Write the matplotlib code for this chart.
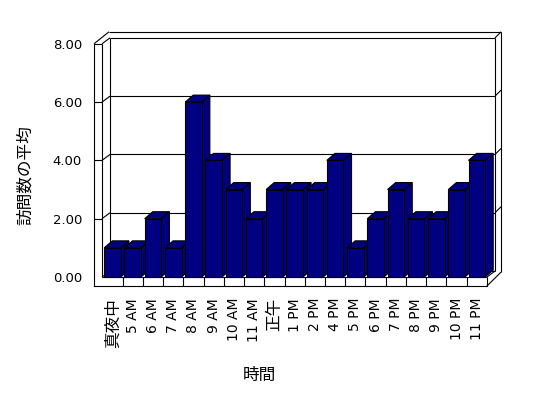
import matplotlib
matplotlib.use("Agg")
import matplotlib.pyplot as plt
from matplotlib.patches import Polygon
from matplotlib.ticker import FormatStrFormatter

plt.rcParams["font.family"] = ["DejaVu Sans", "Noto Sans CJK JP"]

# data
hours = ["真夜中", "5 AM", "6 AM", "7 AM", "8 AM", "9 AM", "10 AM", "11 AM",
         "正午", "1 PM", "2 PM", "4 PM", "5 PM", "6 PM", "7 PM", "8 PM",
         "9 PM", "10 PM", "11 PM"]
avg_visits = [1, 1, 2, 1, 6, 4, 3, 2, 3, 3, 3, 4, 1, 2, 3, 2, 2, 3, 4]
y_ticks = [0, 2, 4, 6, 8]
y_title = "訪問数の平均"
x_title = "時間"

BAR_COLOR = "#000080"
BAR_W = 0.82
BAR_DX, BAR_DY = 0.40, 0.24      # depth of the columns
WALL_DX, WALL_DY = 0.40, 0.206   # depth from floor front to back wall
EDGE_DX, EDGE_DY = 0.30, 0.206   # thickness of the wall edges
LW = 0.8

n = len(hours)
y_max = y_ticks[-1]
x_in = -0.52            # inner face of the left wall / floor start
x_end = n - 0.5         # floor right end
x_wall = -0.914         # outer face of the left wall
y_floor = -0.309        # bottom of the floor slab


def line(ax, xs, ys, z=1):
    ax.plot(xs, ys, color="black", lw=LW, zorder=z, solid_capstyle="butt")


fig = plt.figure(figsize=(5.48, 3.98), dpi=100)
ax = fig.add_axes([0, 0, 1, 1])
ax.set_xlim(-5.558, 21.517)
ax.set_ylim(-4.151, 9.503)

# back wall + side edges
bx0, bx1 = x_in + WALL_DX, x_end + WALL_DX
line(ax, [bx0, bx0], [WALL_DY, y_max + WALL_DY])
line(ax, [bx1, bx1], [WALL_DY, y_max + WALL_DY])
line(ax, [bx0, bx1], [WALL_DY, WALL_DY])
line(ax, [x_in, x_in], [0, y_max])
for t in y_ticks[1:]:
    line(ax, [x_wall, x_in], [t, t])
    line(ax, [x_in, bx0], [t, t + WALL_DY])
    line(ax, [bx0, bx1], [t + WALL_DY, t + WALL_DY])
    line(ax, [bx1, bx1 + EDGE_DX], [t + WALL_DY, t + WALL_DY + EDGE_DY])
line(ax, [x_in, bx0], [0, WALL_DY])

top_outer = y_max + WALL_DY + EDGE_DY
line(ax, [x_wall, -0.173], [y_max, top_outer])
line(ax, [-0.173, bx1 + EDGE_DX], [top_outer, top_outer])
line(ax, [bx1 + EDGE_DX, bx1 + EDGE_DX], [0.17, top_outer])
line(ax, [x_end, bx1 + EDGE_DX], [y_floor, 0.17])

# floor slab front
line(ax, [x_in, x_end], [0, 0])
line(ax, [x_end, x_end], [y_floor, 0])
line(ax, [x_end, bx1], [0, WALL_DY])
for i in range(n - 1):
    line(ax, [i + 0.5, i + 0.5], [y_floor, 0])

# columns, left to right so each front hides the previous side
bars = ax.bar(range(n), avg_visits, width=BAR_W, color=BAR_COLOR,
              edgecolor="black", linewidth=LW)
for i, (patch, v) in enumerate(zip(bars, avg_visits)):
    z = 5 + i
    patch.set_zorder(z + 0.5)
    xl, xr = i - BAR_W / 2, i + BAR_W / 2
    top = [(xl, v), (xr, v), (xr + BAR_DX, v + BAR_DY), (xl + BAR_DX, v + BAR_DY)]
    side = [(xr, 0), (xr, v), (xr + BAR_DX, v + BAR_DY), (xr + BAR_DX, BAR_DY)]
    for pts in (side, top):
        ax.add_patch(Polygon(pts, closed=True, facecolor=BAR_COLOR,
                             edgecolor="black", lw=LW, zorder=z,
                             joinstyle="miter"))

# axes: front-left wall edge and floor bottom edge
for s in ("top", "right"):
    ax.spines[s].set_visible(False)
ax.spines["left"].set_position(("data", x_wall))
ax.spines["left"].set_bounds(y_floor, y_max)
ax.spines["bottom"].set_position(("data", y_floor))
ax.spines["bottom"].set_bounds(x_wall, x_end)
for s in ("left", "bottom"):
    ax.spines[s].set_linewidth(LW)

ax.set_yticks(y_ticks)
ax.yaxis.set_major_formatter(FormatStrFormatter("%.2f"))
ax.tick_params(axis="y", length=0, pad=8.6, labelsize=9.5)

ax.set_xticks(range(n), hours, rotation=90)
ax.tick_params(axis="x", length=0, pad=8.6, labelsize=10)
for lbl in ax.get_xticklabels():
    if not lbl.get_text().isascii():
        lbl.set_fontsize(12)

ax.set_xlabel(x_title, fontsize=12)
ax.xaxis.set_label_coords(259 / 548, 1 - 375 / 398)
ax.xaxis.label.set_va("center")
ax.set_ylabel(y_title, fontsize=12)
ax.yaxis.set_label_coords(25 / 548, 1 - 175 / 398)
ax.yaxis.label.set_va("center")

fig.savefig("out.png", dpi=100)
